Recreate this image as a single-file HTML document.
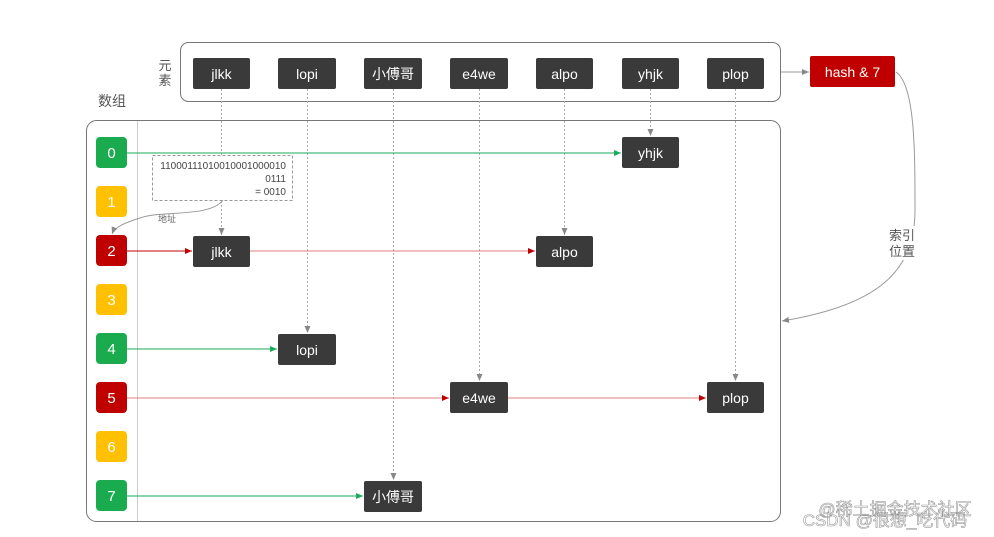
<!DOCTYPE html>
<html><head><meta charset="utf-8"><style>
html,body{margin:0;padding:0;background:#fff;width:994px;height:537px;overflow:hidden}
text{font-family:"Liberation Sans","Noto Sans CJK SC",sans-serif}
</style></head><body>
<svg width="994" height="537" viewBox="0 0 994 537" xmlns="http://www.w3.org/2000/svg">
<defs>
<marker id="ag" markerWidth="8" markerHeight="8" refX="7" refY="4" orient="auto" markerUnits="userSpaceOnUse"><path d="M0,1 L7,4 L0,7z" fill="#888"/></marker>
<marker id="ar" markerWidth="8" markerHeight="8" refX="7" refY="4" orient="auto" markerUnits="userSpaceOnUse"><path d="M0,1 L7,4 L0,7z" fill="#c00000"/></marker>
<marker id="agr" markerWidth="8" markerHeight="8" refX="7" refY="4" orient="auto" markerUnits="userSpaceOnUse"><path d="M0,1 L7,4 L0,7z" fill="#1aab5a"/></marker>
</defs>
<rect x="180.5" y="42.5" width="600" height="59" rx="8" fill="#fff" stroke="#777"/>
<rect x="86.5" y="120.5" width="694" height="401" rx="10" fill="#fff" stroke="#777"/>
<line x1="137.5" y1="121" x2="137.5" y2="521" stroke="#ccc"/>
<text x="165" y="70" font-size="13" fill="#555" text-anchor="middle">元</text>
<text x="165" y="85" font-size="13" fill="#555" text-anchor="middle">素</text>
<text x="112" y="106" font-size="14" fill="#555" text-anchor="middle">数组</text>
<!-- dashed verticals -->
<g stroke="#aaa" stroke-dasharray="2,2" fill="none" marker-end="url(#ag)">
<line x1="221.5" y1="89" x2="221.5" y2="235"/>
<line x1="307.5" y1="89" x2="307.5" y2="333"/>
<line x1="393.5" y1="89" x2="393.5" y2="480"/>
<line x1="479.5" y1="89" x2="479.5" y2="381"/>
<line x1="564.5" y1="89" x2="564.5" y2="235"/>
<line x1="650.5" y1="89" x2="650.5" y2="136"/>
<line x1="735.5" y1="89" x2="735.5" y2="381"/>
</g>
<!-- row lines -->
<line x1="127" y1="153" x2="621" y2="153" stroke="#1aab5a" marker-end="url(#agr)"/>
<line x1="127" y1="251" x2="192" y2="251" stroke="#c00000" marker-end="url(#ar)"/>
<line x1="250" y1="251" x2="535" y2="251" stroke="#e08080" marker-end="url(#ar)"/>
<line x1="127" y1="349" x2="277" y2="349" stroke="#1aab5a" marker-end="url(#agr)"/>
<line x1="127" y1="398" x2="449" y2="398" stroke="#e08080" marker-end="url(#ar)"/>
<line x1="508" y1="398" x2="706" y2="398" stroke="#e08080" marker-end="url(#ar)"/>
<line x1="127" y1="496" x2="363" y2="496" stroke="#1aab5a" marker-end="url(#agr)"/>
<!-- dashed box -->
<rect x="152.5" y="155.5" width="140" height="45" fill="#fff" stroke="#999" stroke-dasharray="3,2"/>
<g font-size="10" fill="#444" text-anchor="end">
<text x="286" y="169">11000111010010001000010</text>
<text x="286" y="182">0111</text>
<text x="286" y="195">= 0010</text>
</g>
<path d="M223,200 C210,218 160,210 140,218 C128,222 115,226 112,234" fill="none" stroke="#999" marker-end="url(#ag)"/>
<text x="167" y="222" font-size="9" fill="#666" text-anchor="middle">地址</text>
<!-- hash arrow -->
<line x1="781" y1="72" x2="809" y2="72" stroke="#999" marker-end="url(#ag)"/>
<path d="M896,72 C915,85 915,150 915,210 C915,270 880,305 782,321" fill="none" stroke="#999" marker-end="url(#ag)"/>
<rect x="880" y="226" width="44" height="34" fill="#fff"/>
<text x="902" y="240" font-size="13" fill="#555" text-anchor="middle">索引</text>
<text x="902" y="256" font-size="13" fill="#555" text-anchor="middle">位置</text>
<rect x="810" y="56" width="85" height="31" rx="2" fill="#c00000"/>
<text x="852.5" y="77" font-size="14" fill="#fff" text-anchor="middle">hash &amp; 7</text>
<!-- dark boxes -->
<g fill="#3a3a3a">
<rect x="193" y="58" width="57" height="31" rx="2"/>
<rect x="278" y="58" width="58" height="31" rx="2"/>
<rect x="364" y="58" width="58" height="31" rx="2"/>
<rect x="450" y="58" width="58" height="31" rx="2"/>
<rect x="536" y="58" width="57" height="31" rx="2"/>
<rect x="622" y="58" width="57" height="31" rx="2"/>
<rect x="707" y="58" width="57" height="31" rx="2"/>
<rect x="622" y="137" width="57" height="31" rx="2"/>
<rect x="193" y="236" width="57" height="31" rx="2"/>
<rect x="536" y="236" width="57" height="31" rx="2"/>
<rect x="278" y="334" width="58" height="31" rx="2"/>
<rect x="450" y="382" width="58" height="31" rx="2"/>
<rect x="707" y="382" width="57" height="31" rx="2"/>
<rect x="364" y="481" width="58" height="31" rx="2"/>
</g>
<g font-size="14" fill="#fff" text-anchor="middle">
<text x="221.5" y="79">jlkk</text>
<text x="307" y="79">lopi</text>
<text x="393" y="79">小傅哥</text>
<text x="479" y="79">e4we</text>
<text x="564.5" y="79">alpo</text>
<text x="650.5" y="79">yhjk</text>
<text x="735.5" y="79">plop</text>
<text x="650.5" y="158">yhjk</text>
<text x="221.5" y="257">jlkk</text>
<text x="564.5" y="257">alpo</text>
<text x="307" y="355">lopi</text>
<text x="479" y="403">e4we</text>
<text x="735.5" y="403">plop</text>
<text x="393" y="502">小傅哥</text>
</g>
<!-- index boxes -->
<g>
<rect x="96" y="137" width="31" height="31" rx="4" fill="#1aab4f"/>
<rect x="96" y="186" width="31" height="31" rx="4" fill="#ffc000"/>
<rect x="96" y="235" width="31" height="31" rx="4" fill="#c00000"/>
<rect x="96" y="284" width="31" height="31" rx="4" fill="#ffc000"/>
<rect x="96" y="333" width="31" height="31" rx="4" fill="#1aab4f"/>
<rect x="96" y="382" width="31" height="31" rx="4" fill="#c00000"/>
<rect x="96" y="431" width="31" height="31" rx="4" fill="#ffc000"/>
<rect x="96" y="480" width="31" height="31" rx="4" fill="#1aab4f"/>
</g>
<g font-size="15" fill="#fff" text-anchor="middle">
<text x="111.5" y="158">0</text><text x="111.5" y="207">1</text><text x="111.5" y="256">2</text><text x="111.5" y="305">3</text>
<text x="111.5" y="354">4</text><text x="111.5" y="403">5</text><text x="111.5" y="452">6</text><text x="111.5" y="501">7</text>
</g>
<text x="895" y="515" font-size="17" fill="none" stroke="#999" stroke-width="0.6" text-anchor="middle">@稀土掘金技术社区</text>
<text x="885" y="526" font-size="17" fill="none" stroke="#999" stroke-width="0.6" text-anchor="middle">CSDN @很想_吃代码</text>
</svg>
</body></html>
